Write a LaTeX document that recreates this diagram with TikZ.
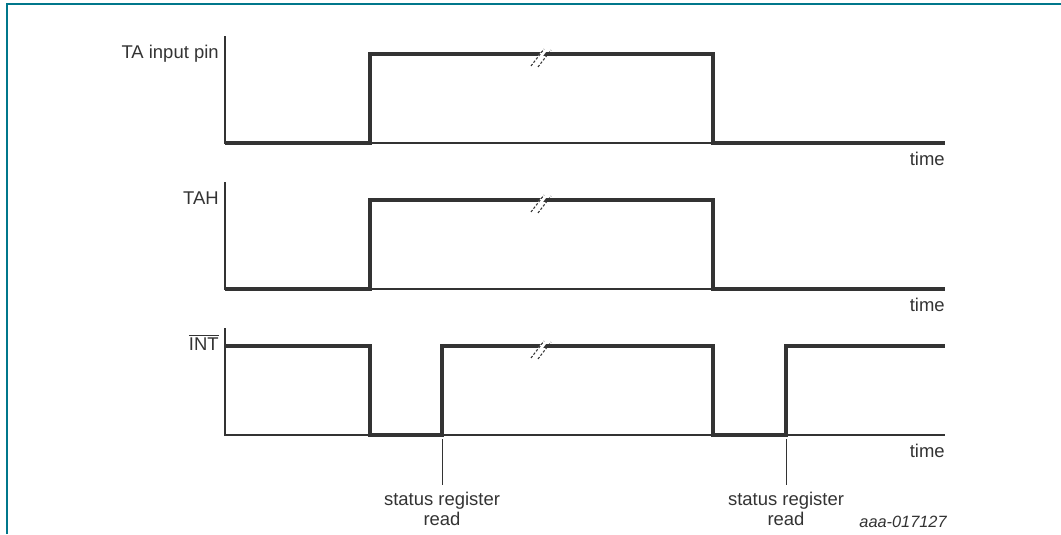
\documentclass[tikz,border=0pt]{standalone}
\usepackage{fontspec}
\setmainfont{Liberation Sans}
\definecolor{framecol}{HTML}{00778B}
\definecolor{ink}{HTML}{333333}
\tikzset{
  sig/.style={line width=2pt, draw=ink, line join=miter},
  axisline/.style={line width=0.8pt, draw=ink},
  readline/.style={line width=0.5pt, draw=ink},
  lbl/.style={font=\fontsize{10.5}{11.4}\selectfont, text=ink, inner sep=0pt},
  breakmark/.style={line width=0.6pt, draw=ink, dash pattern=on 1.4pt off 1pt},
}
\begin{document}
\begin{tikzpicture}[x=0.02cm, y=-0.02cm]
  \useasboundingbox (0,0) rectangle (1061,534);
  \draw[framecol, line width=0.9pt] (7,534) -- (7,4) -- (1061,4);
  % axes and labels of the three traces
  \foreach \yb/\name/\txt in {143/ta/TA input pin, 289/tah/TAH, 435/int/{$\overline{\mbox{INT}}$}} {
    \draw[axisline] (225,{\yb-107}) -- (225,\yb) -- (945,\yb);
    \node[lbl, anchor=base east] (time-\name) at (945,{\yb+22}) {time};
    \node[lbl, anchor=base east] (lab-\name) at (219,{\yb-85}) {\txt};
  }
  % signals
  \draw[sig] (225,143) -- (370,143) -- (370,54) -- (713,54) -- (713,143) -- (945,143);
  \draw[sig] (225,289) -- (370,289) -- (370,200) -- (713,200) -- (713,289) -- (945,289);
  \draw[sig] (225,346) -- (370,346) -- (370,435) -- (442,435) -- (442,346) -- (713,346)
    -- (713,435) -- (786,435) -- (786,346) -- (945,346);
  % breaks in the long high level
  \foreach \yh in {54,200,346} {
    \fill[white] (535,{\yh+6}) -- (544,{\yh-6}) -- (549,{\yh-6}) -- (540,{\yh+6}) -- cycle;
    \draw[breakmark] (531,{\yh+12}) -- (544,{\yh-5});
    \draw[breakmark] (538,{\yh+13}) -- (551,{\yh-4});
  }
  % status register reads
  \coordinate (rise1) at (442,439);
  \coordinate (rise2) at (786,439);
  \node[lbl, align=center, anchor=north] (read1) at (442,492) {status register\\read};
  \node[lbl, align=center, anchor=north] (read2) at (786,492) {status register\\read};
  \draw[readline] (rise1) -- ([yshift=4pt]read1.north);
  \draw[readline] (rise2) -- ([yshift=4pt]read2.north);
  \node[lbl, font=\fontsize{9.3}{11}\selectfont\itshape, anchor=base east] (figid) at (947,527) {aaa-017127};
\end{tikzpicture}
\end{document}
